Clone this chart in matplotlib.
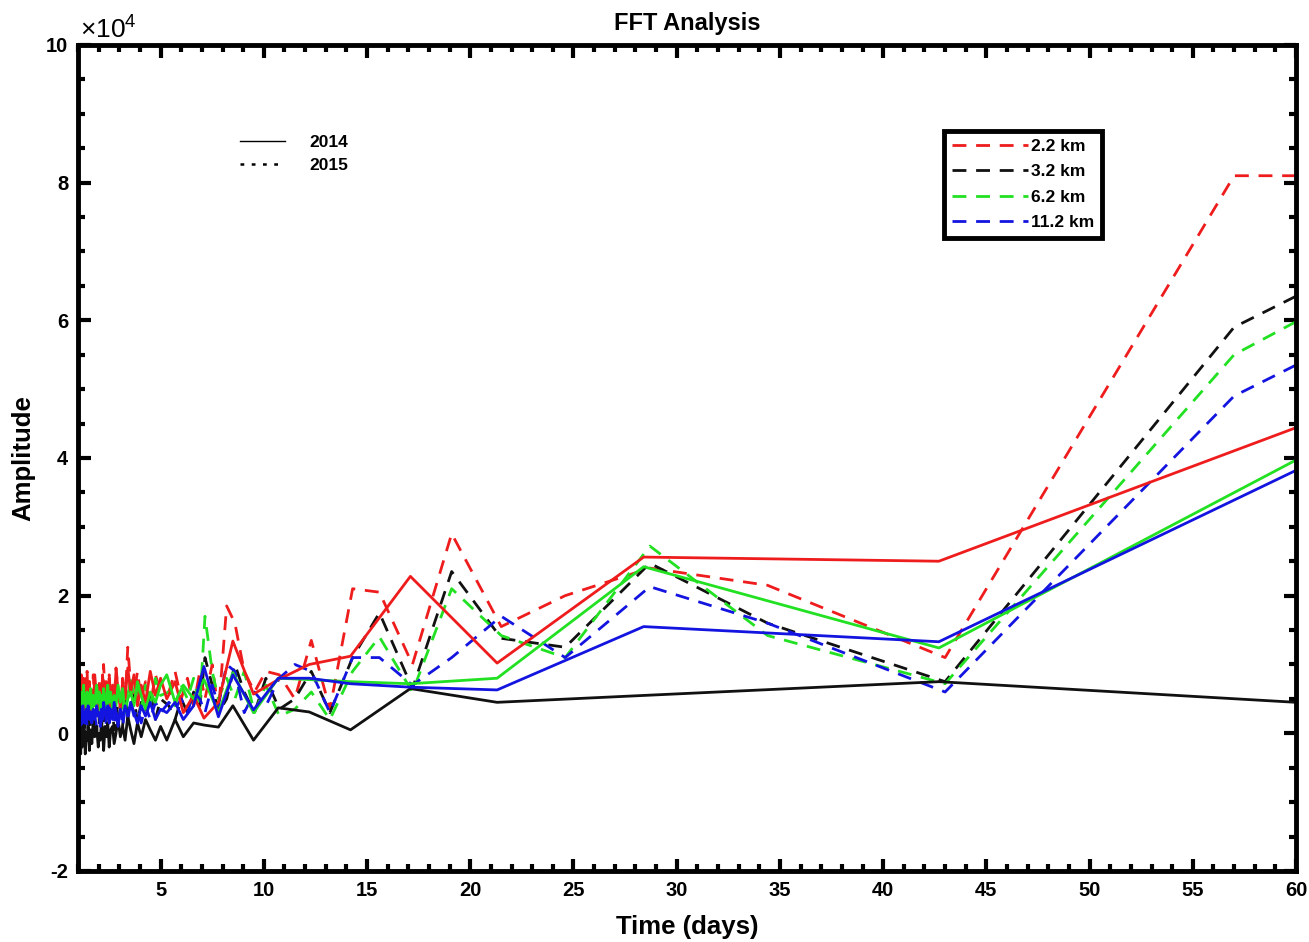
import numpy as np
import matplotlib
matplotlib.use("Agg")
import matplotlib.pyplot as plt
from matplotlib.lines import Line2D
from matplotlib.ticker import MultipleLocator, FuncFormatter

plt.rcParams['font.family'] = ['Liberation Sans', 'DejaVu Sans']
plt.rcParams['font.weight'] = 'bold'
plt.rcParams['axes.unicode_minus'] = False

SCALE = 1e4  # amplitudes below are in units of 10^4

# period axis (days), long periods first, short noisy periods at the end
x_noise = [5.0, 4.75, 4.5, 4.27, 4.06, 3.88, 3.71, 3.55,
           3.41, 3.28, 3.16, 3.05, 2.94, 2.84, 2.75, 2.67,
           2.58, 2.51, 2.44, 2.37, 2.31, 2.24, 2.19, 2.13,
           2.08, 2.03, 1.98, 1.90, 1.81, 1.74, 1.67, 1.61,
           1.55, 1.49, 1.44, 1.40, 1.35, 1.31, 1.27, 1.23,
           1.20, 1.16, 1.13, 1.10, 1.07, 1.04, 1.02, 1.0]

x2014 = [60, 42.7, 28.4, 21.3, 17.1, 14.2, 12.2, 10.7, 9.5, 8.5, 7.8, 7.1, 6.6, 6.1, 5.7, 5.3] + x_noise
x2015 = [60, 57, 43, 34.4, 28.7, 24.6, 21.5, 19.1, 17.2, 15.6, 14.3, 13.2, 12.3, 11.5, 10.75,
         10.1, 9.55, 9.05, 8.6, 8.2, 7.8, 7.5, 7.15, 6.9, 6.6, 6.3, 6.0, 5.7, 5.4] + x_noise

# 2014 (solid)
red14 = [4.44, 2.50, 2.56, 1.02, 2.28, 1.12, 1.00, 0.78, 0.57, 1.34, 0.45, 0.22, 0.55, 0.30, 0.75, 0.50,
         0.80, 0.55, 0.90, 0.45, 0.70, 0.40, 0.85, 0.60,
         0.95, 0.50, 0.75, 0.35, 0.65, 0.90, 0.45, 0.70,
         0.40, 0.80, 0.55, 0.35, 0.75, 0.50, 0.85, 0.40,
         0.65, 0.30, 0.70, 0.50, 0.85, 0.40, 0.60, 0.35,
         0.75, 0.55, 0.40, 0.80, 0.45, 0.65, 0.35, 0.70,
         0.50, 0.85, 0.40, 0.60, 0.75, 0.45, 0.70, 0.55]
black14 = [0.45, 0.75, 0.55, 0.45, 0.65, 0.05, 0.31, 0.37, -0.10, 0.40, 0.09, 0.12, 0.15, -0.05, 0.20, -0.10,
           0.10, -0.10, 0.05, 0.20, -0.05, 0.15, -0.15, 0.05,
           0.25, -0.10, 0.10, -0.05, 0.20, 0.00, -0.15, 0.10,
           0.05, -0.20, 0.15, -0.05, 0.10, -0.25, 0.05, 0.15,
           -0.10, 0.00, -0.20, 0.10, -0.05, 0.20, -0.15, 0.05,
           -0.25, 0.10, -0.10, 0.00, -0.30, 0.05, -0.15, 0.10,
           -0.20, 0.00, -0.30, 0.05, -0.20, -0.05, -0.35, -0.10]
green14 = [3.97, 1.24, 2.42, 0.80, 0.72, 0.75, 0.78, 0.80, 0.30, 0.88, 0.30, 0.78, 0.50, 0.70, 0.45, 0.85,
           0.70, 0.45, 0.60, 0.35, 0.55, 0.75, 0.40, 0.60,
           0.50, 0.30, 0.65, 0.45, 0.70, 0.40, 0.55, 0.35,
           0.60, 0.45, 0.70, 0.35, 0.50, 0.65, 0.40, 0.55,
           0.30, 0.60, 0.45, 0.70, 0.40, 0.55, 0.35, 0.65,
           0.50, 0.40, 0.60, 0.35, 0.55, 0.45, 0.70, 0.40,
           0.55, 0.35, 0.60, 0.45, 0.50, 0.40, 0.65, 0.50]
blue14 = [3.82, 1.33, 1.55, 0.63, 0.67, 0.72, 0.80, 0.80, 0.34, 0.85, 0.24, 0.97, 0.40, 0.20, 0.45, 0.30,
          0.35, 0.20, 0.45, 0.25, 0.40, 0.15, 0.30, 0.45,
          0.25, 0.40, 0.20, 0.35, 0.10, 0.30, 0.45, 0.20,
          0.35, 0.15, 0.40, 0.25, 0.30, 0.45, 0.20, 0.35,
          0.10, 0.30, 0.25, 0.40, 0.20, 0.35, 0.15, 0.30,
          0.25, 0.40, 0.20, 0.35, 0.15, 0.30, 0.25, 0.40,
          0.20, 0.35, 0.15, 0.30, 0.25, 0.40, 0.20, 0.30]

# 2015 (dashed)
red15 = [8.1, 8.1, 1.1, 2.15, 2.4, 2.0, 1.55, 2.9, 1.0, 2.05, 2.1, 0.35, 1.35, 0.5, 0.85,
         0.9, 0.6, 0.9, 1.6, 1.85, 0.3, 1.0, 0.5, 0.9, 0.4, 0.8, 0.5, 0.9, 0.6,
         0.60, 0.85, 0.40, 0.75, 0.50, 0.90, 0.55, 0.70,
         1.25, 0.45, 0.80, 0.35, 0.65, 0.95, 0.40, 0.70,
         0.50, 0.85, 0.30, 0.75, 0.55, 1.00, 0.45, 0.65,
         0.35, 0.80, 0.50, 0.70, 0.40, 0.85, 0.55, 0.30,
         0.75, 0.45, 0.90, 0.50, 0.65, 0.35, 0.80, 0.55,
         0.40, 0.85, 0.50, 0.70, 0.35, 0.90, 0.60, 2.45]
black15 = [6.35, 5.9, 0.75, 1.6, 2.47, 1.25, 1.38, 2.35, 0.65, 1.75, 1.1, 0.3, 0.9, 0.5, 0.35,
           0.8, 0.3, 0.6, 1.0, 0.5, 0.3, 0.7, 1.1, 0.4, 0.6, 0.3, 0.5, 0.2, 0.4,
           0.50, 0.20, 0.60, 0.30, 0.45, 0.15, 0.55, 0.35,
           0.25, 0.60, 0.10, 0.40, 0.20, 0.50, 0.05, 0.35,
           0.45, 0.15, 0.30, 0.55, 0.10, 0.40, 0.25, 0.05,
           0.35, 0.15, 0.45, 0.00, 0.30, 0.20, 0.40, 0.10,
           0.25, 0.05, 0.35, 0.15, 0.30, 0.00, 0.20, 0.35,
           0.10, 0.25, 0.05, 0.30, 0.15, 0.40, 0.20, 1.80]
green15 = [5.98, 5.5, 0.72, 1.42, 2.72, 1.1, 1.42, 2.1, 0.6, 1.4, 0.9, 0.2, 0.6, 0.35, 0.25,
           0.7, 0.3, 0.9, 0.5, 0.8, 0.5, 0.9, 1.7, 0.4, 0.8, 0.5, 0.7, 0.4, 0.6,
           0.55, 0.80, 0.40, 0.70, 0.35, 0.65, 0.50, 0.85,
           0.45, 0.70, 0.30, 0.60, 0.50, 0.75, 0.40, 0.55,
           0.65, 0.35, 0.55, 0.45, 0.70, 0.30, 0.60, 0.50,
           0.40, 0.65, 0.35, 0.55, 0.45, 0.60, 0.30, 0.50,
           0.55, 0.35, 0.60, 0.40, 0.50, 0.30, 0.55, 0.45,
           0.35, 0.50, 0.40, 0.55, 0.30, 0.45, 0.40, 0.60]
blue15 = [5.35, 4.9, 0.6, 1.6, 2.13, 1.1, 1.7, 1.1, 0.7, 1.1, 1.1, 0.3, 0.9, 1.0, 0.8,
          0.4, 0.6, 0.3, 0.9, 1.0, 0.4, 0.7, 0.3, 0.5, 0.6, 0.3, 0.5, 0.35, 0.45,
          0.30, 0.45, 0.20, 0.40, 0.15, 0.35, 0.25, 0.45,
          0.20, 0.35, 0.10, 0.40, 0.25, 0.30, 0.15, 0.35,
          0.40, 0.20, 0.30, 0.10, 0.35, 0.25, 0.40, 0.15,
          0.30, 0.20, 0.35, 0.10, 0.25, 0.30, 0.15, 0.35,
          0.20, 0.30, 0.10, 0.25, 0.35, 0.15, 0.30, 0.20,
          0.25, 0.10, 0.30, 0.20, 0.35, 0.15, 0.25, 0.30]

labels = ['2.2 km', '3.2 km', '6.2 km', '11.2 km']
colors = ['#ee1c1c', '#111111', '#22e022', '#1414e0']
dash = (0, (5, 3.5))

fig = plt.figure(figsize=(13.09, 9.42), dpi=100)
ax = fig.add_axes([0.0596, 0.0754, 0.9305, 0.8769])

series15 = [red15, black15, green15, blue15]
series14 = [red14, black14, green14, blue14]

dashed_handles = []
for vals, c, lab in zip(series15, colors, labels):
    h, = ax.plot(x2015, np.array(vals) * SCALE, color=c, lw=2.0, linestyle=dash, label=lab)
    dashed_handles.append(h)
for vals, c in zip(series14, colors):
    ax.plot(x2014, np.array(vals) * SCALE, color=c, lw=2.0)

ax.set_xlim(1, 60)
ax.set_ylim(-2e4, 10e4)
ax.set_xticks([5, 10, 15, 20, 25, 30, 35, 40, 45, 50, 55, 60])
ax.set_yticks(np.arange(-2e4, 10.1e4, 2e4))
ax.xaxis.set_minor_locator(MultipleLocator(1))
ax.yaxis.set_minor_locator(MultipleLocator(0.5e4))
ax.yaxis.set_major_formatter(FuncFormatter(lambda v, p: f'{v / SCALE:g}'))
ax.text(0.002, 1.002, r'$\mathregular{\times10^{4}}$', transform=ax.transAxes, ha='left', va='bottom',
        fontsize=19, fontweight='normal')

ax.tick_params(which='both', direction='in', top=True, right=True, width=3, labelsize=14.5, colors='k')
ax.tick_params(which='major', length=9, pad=7)
ax.tick_params(which='minor', length=5)
for s in ax.spines.values():
    s.set_linewidth(3.5)

ax.set_title('FFT Analysis', fontsize=17, fontweight='bold', pad=11)
ax.set_xlabel('Time (days)', fontsize=18.5, fontweight='bold', labelpad=11)
ax.set_ylabel('Amplitude', fontsize=18.5, fontweight='bold', labelpad=8)

leg1 = ax.legend(handles=dashed_handles, loc='upper left', bbox_to_anchor=(0.704, 0.906),
                 fontsize=12.5, handlelength=4.4, handletextpad=0.15, labelspacing=0.58,
                 borderpad=0.45, fancybox=False, framealpha=1, edgecolor='k')
leg1.get_frame().set_linewidth(3.5)
ax.add_artist(leg1)

year_handles = [Line2D([], [], color='k', lw=1.0),
                Line2D([], [], color='k', lw=1.8, linestyle=(0, (1.5, 3)))]
ax.legend(handles=year_handles, labels=['2014', '2015'], loc='upper left',
          bbox_to_anchor=(0.12, 0.91), frameon=False, fontsize=12.5,
          handlelength=2.6, handletextpad=1.4, labelspacing=0.45)

fig.savefig('out.png', dpi=100)
